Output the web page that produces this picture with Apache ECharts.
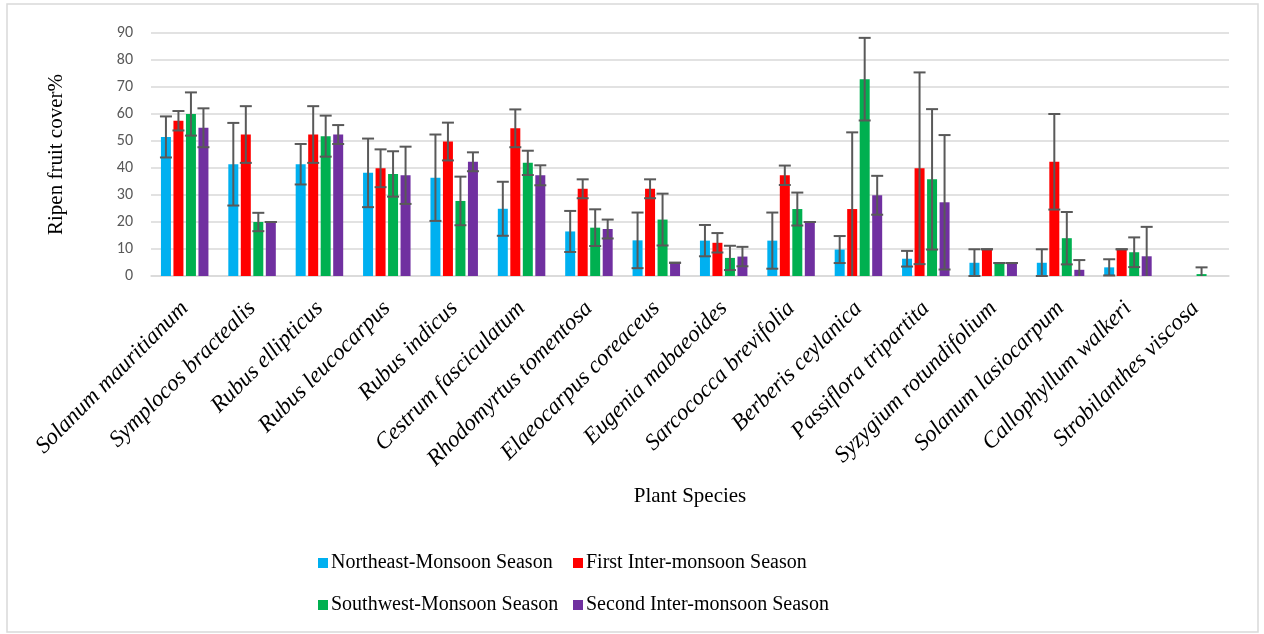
<!DOCTYPE html>
<html>
<head>
<meta charset="utf-8">
<script src="https://cdn.jsdelivr.net/npm/echarts@6/dist/echarts.min.js"></script>
<style>
html,body{margin:0;padding:0;background:#fff;}
#chart{width:1264px;height:634px;}
</style>
</head>
<body>
<div id="chart"></div>
<script>
const categories = ['Solanum mauritianum','Symplocos bractealis','Rubus ellipticus','Rubus leucocarpus','Rubus indicus','Cestrum fasciculatum','Rhodomyrtus tomentosa','Elaeocarpus coreaceus','Eugenia mabaeoides','Sarcococca brevifolia','Berberis ceylanica','Passiflora tripartita','Syzygium rotundifolium','Solanum lasiocarpum','Callophyllum walkeri','Strobilanthes viscosa'];
const seriesNames = ['Northeast-Monsoon Season','First Inter-monsoon Season','Southwest-Monsoon Season','Second Inter-monsoon Season'];
const northeast = [51.5, 41.4, 41.4, 38.2, 36.4, 24.9, 16.5, 13.2, 13.1, 13.1, 9.8, 6.4, 4.9, 4.9, 3.2, 0];
const northeastErr = [7.6, 15.3, 7.5, 12.7, 16, 10, 7.6, 10.3, 5.8, 10.4, 5, 2.9, 5, 5, 3, 0];
const firstInter = [57.5, 52.4, 52.4, 39.9, 49.8, 54.7, 32.3, 32.3, 12.3, 37.3, 24.8, 39.9, 9.9, 42.3, 9.9, 0];
const firstInterErr = [3.6, 10.5, 10.5, 7, 7, 7, 3.5, 3.5, 3.6, 3.6, 28.4, 35.5, 0, 17.7, 0, 0];
const southwest = [60, 20, 51.8, 37.8, 27.8, 41.9, 17.9, 20.9, 6.7, 24.8, 72.9, 35.8, 4.8, 14.0, 8.8, 0.7];
const southwestErr = [8, 3.4, 7.6, 8.4, 9, 4.5, 6.8, 9.6, 4.5, 6.1, 15.3, 26, 0, 9.7, 5.5, 2.5];
const secondInter = [54.9, 20, 52.4, 37.3, 42.3, 37.3, 17.4, 4.9, 7.2, 20, 29.9, 27.3, 4.8, 2.3, 7.3, 0];
const secondInterErr = [7.2, 0, 3.5, 10.6, 3.5, 3.7, 3.5, 0, 3.6, 0, 7.2, 24.9, 0, 3.6, 10.9, 0];
const yTicks = [0, 10, 20, 30, 40, 50, 60, 70, 80, 90];

const colors = ['#00B0F0', '#FF0000', '#00B050', '#7030A0'];
const values = [northeast, firstInter, southwest, secondInter];
const errors = [northeastErr, firstInterErr, southwestErr, secondInterErr];
const BAR_W = 10, STEP = 12.5;
const offsets = [-1.5 * STEP, -0.5 * STEP, 0.5 * STEP, 1.5 * STEP];

const chart = echarts.init(document.getElementById('chart'), null, {renderer: 'canvas'});

const series = [];
values.forEach((vals, s) => {
  series.push({
    name: seriesNames[s],
    type: 'bar',
    data: vals,
    barWidth: BAR_W,
    barGap: '25%',
    itemStyle: {color: colors[s]},
    z: 2
  });
});
values.forEach((vals, s) => {
  const data = vals.map((v, i) => [i, v, errors[s][i]]);
  series.push({
    name: seriesNames[s] + ' error',
    type: 'custom',
    z: 5,
    silent: true,
    data: data,
    encode: {x: 0, y: 1},
    renderItem: function (params, api) {
      const idx = api.value(0), v = api.value(1), e = api.value(2);
      if (v === 0 && e === 0) return null;
      const cs = params.coordSys;
      const x = api.coord([idx, 0])[0] + offsets[s];
      const yHi = api.coord([idx, v + e])[1];
      let yLo = api.coord([idx, v - e])[1];
      const bottom = cs.y + cs.height;
      const children = [];
      const style = {stroke: '#595959', lineWidth: 2};
      const showLowCap = (v - e) >= -0.3;
      if (yLo > bottom) yLo = bottom;
      children.push({type: 'line', shape: {x1: x, y1: yHi, x2: x, y2: yLo}, style: style});
      children.push({type: 'line', shape: {x1: x - 6, y1: yHi, x2: x + 6, y2: yHi}, style: style});
      if (showLowCap) children.push({type: 'line', shape: {x1: x - 6, y1: yLo, x2: x + 6, y2: yLo}, style: style});
      return {type: 'group', children: children};
    }
  });
});

const option = {
  backgroundColor: '#ffffff',
  animation: false,
  color: colors,
  grid: {left: 151, right: 35, top: 33, bottom: 358, containLabel: false},
  graphic: [{
    type: 'rect',
    shape: {x: 7, y: 4, width: 1251, height: 628},
    style: {fill: 'none', stroke: '#d9d9d9', lineWidth: 1.5},
    silent: true, z: -1
  }],
  legend: [{
    data: [seriesNames[0], seriesNames[2]],
    orient: 'vertical',
    left: 313, top: 548,
    itemWidth: 10, itemHeight: 10, itemGap: 22,
    icon: 'rect',
    textStyle: {fontFamily: "'Liberation Serif','Times New Roman',serif", fontSize: 20, color: '#000', padding: [0, 0, 0, -2]}
  }, {
    data: [seriesNames[1], seriesNames[3]],
    orient: 'vertical',
    left: 568, top: 548,
    itemWidth: 10, itemHeight: 10, itemGap: 22,
    icon: 'rect',
    textStyle: {fontFamily: "'Liberation Serif','Times New Roman',serif", fontSize: 20, color: '#000', padding: [0, 0, 0, -2]}
  }],
  xAxis: {
    type: 'category',
    data: categories,
    name: 'Plant Species',
    nameLocation: 'middle',
    nameGap: 210,
    nameTextStyle: {fontFamily: "'Liberation Serif','Times New Roman',serif", fontSize: 21, color: '#000'},
    axisLine: {show: true, lineStyle: {color: '#d9d9d9', width: 1.5}},
    axisTick: {show: false},
    axisLabel: {
      interval: 0,
      rotate: 45,
      margin: 29,
      fontFamily: "'Liberation Serif','Times New Roman',serif",
      fontStyle: 'italic',
      fontSize: 23,
      color: '#000'
    }
  },
  yAxis: {
    type: 'value',
    min: yTicks[0],
    max: yTicks[yTicks.length - 1],
    interval: yTicks[1] - yTicks[0],
    name: 'Ripen fruit cover%',
    nameLocation: 'middle',
    nameGap: 84,
    nameTextStyle: {fontFamily: "'Liberation Serif','Times New Roman',serif", fontSize: 21, color: '#000'},
    axisLine: {show: false},
    axisTick: {show: false},
    splitLine: {lineStyle: {color: '#d9d9d9', width: 1.5}},
    axisLabel: {
      margin: 18,
      fontFamily: "Carlito,'Open Sans','Liberation Sans',sans-serif",
      fontSize: 16,
      color: '#595959'
    }
  },
  series: series
};
chart.setOption(option);
</script>
</body>
</html>
